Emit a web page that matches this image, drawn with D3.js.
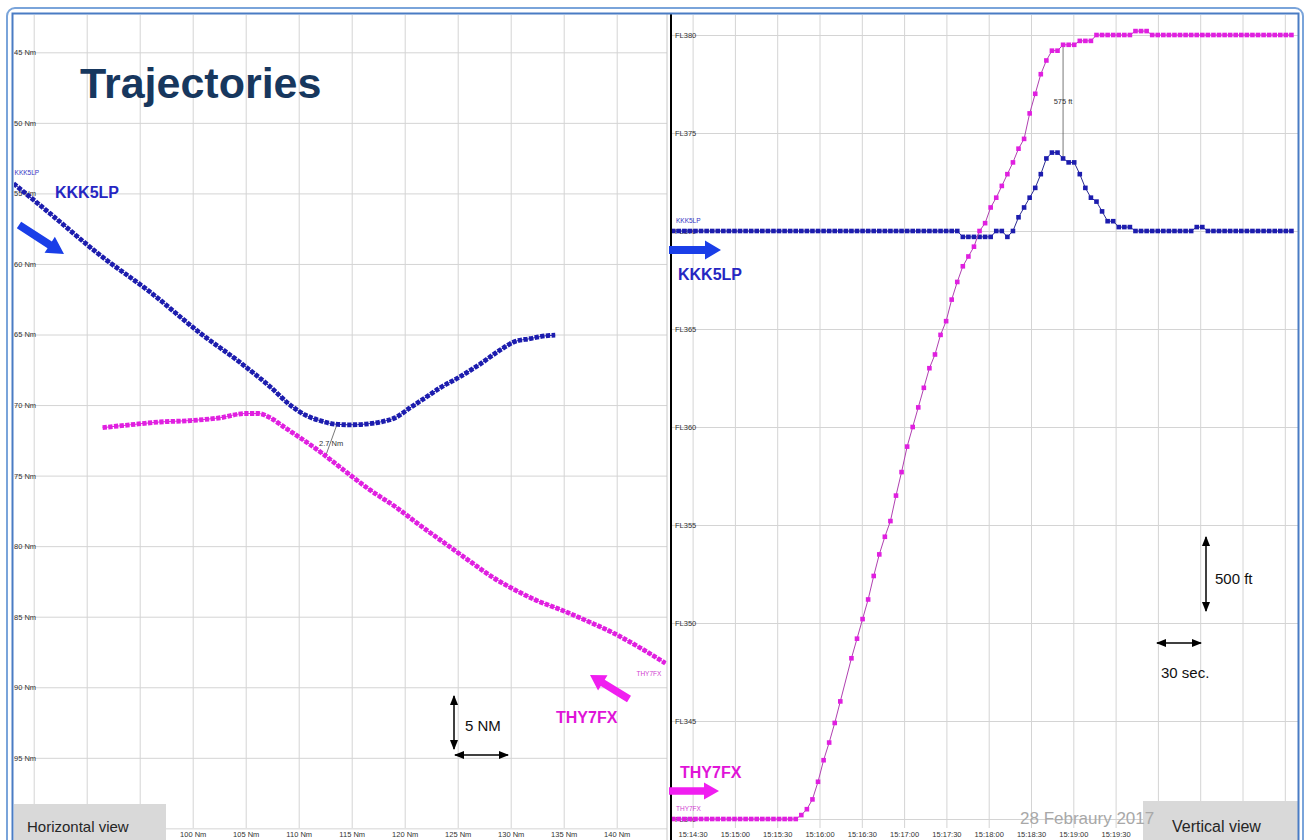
<!DOCTYPE html>
<html><head><meta charset="utf-8">
<script src="https://cdn.jsdelivr.net/npm/d3@7"></script>
<style>body{margin:0;background:#fff}svg{display:block;font-family:"Liberation Sans",Arial,sans-serif}</style>
</head><body><svg id="c" width="1309" height="840"></svg>
<script>
// ---------------- DATA ----------------
// Horizontal view (Nm)
const hGridX   = [85, 90, 95, 100, 105, 110, 115, 120, 125, 130, 135, 140];
const hLabelsX = [100, 105, 110, 115, 120, 125, 130, 135, 140];
const hGridY   = [45, 50, 55, 60, 65, 70, 75, 80, 85, 90, 95, 100];
const hLabelsY = [45, 50, 55, 60, 65, 70, 75, 80, 85, 90, 95];

const kkkX = [83.1, 86.5, 91.3, 96.0, 100.7, 104.5, 107.3, 109.2, 110.6, 112.0, 113.4, 114.8, 116.3, 117.7, 119.1, 120.5, 121.9, 123.3, 125.2, 127.1, 129.0, 130.4, 131.8, 133.2, 134.2];
const kkkY = [54.3, 56.4, 59.4, 62.0, 64.9, 67.0, 68.7, 70.0, 70.7, 71.1, 71.35, 71.4, 71.35, 71.2, 70.9, 70.2, 69.5, 68.8, 68.0, 67.1, 66.1, 65.5, 65.3, 65.1, 65.05];
const thyX = [91.5, 94.1, 96.9, 99.8, 102.6, 104.9, 106.2, 107.3, 108.7, 110.1, 112.0, 114.4, 116.7, 119.1, 121.4, 123.8, 126.2, 128.5, 130.4, 132.3, 134.7, 137.5, 139.8, 142.2, 144.6];
const thyY = [71.6, 71.4, 71.2, 71.1, 70.9, 70.6, 70.6, 70.9, 71.6, 72.3, 73.3, 74.7, 76.0, 77.2, 78.5, 79.8, 81.1, 82.3, 83.1, 83.8, 84.5, 85.4, 86.2, 87.2, 88.3];
// closest approach, horizontal (Nm): [x, y] on KKK5LP and THY7FX
const hSepKKK = [113.6, 71.4];
const hSepTHY = [112.5, 73.7];
const hSepLabel = "2.7 Nm";

// Vertical view
const vTicksFL = [340, 345, 350, 355, 360, 365, 370, 375, 380];
const vTimeLabels = ["15:14:30", "15:15:00", "15:15:30", "15:16:00", "15:16:30", "15:17:00", "15:17:30", "15:18:00", "15:18:30", "15:19:00", "15:19:30"];
const radarStartSec = -13.75;   // seconds relative to 15:14:30
const radarStepSec = 3.95;
const kkkFL = [
  370.0,370.0,370.0,370.0,370.0,370.0,370.0,370.0,370.0,370.0,
  370.0,370.0,370.0,370.0,370.0,370.0,370.0,370.0,370.0,370.0,
  370.0,370.0,370.0,370.0,370.0,370.0,370.0,370.0,370.0,370.0,
  370.0,370.0,370.0,370.0,370.0,370.0,370.0,370.0,370.0,370.0,
  370.0,370.0,370.0,370.0,370.0,370.0,370.0,370.0,370.0,370.0,
  370.0,370.0,369.7,369.7,369.7,369.7,369.7,369.7,370.0,370.0,
  369.7,370.0,370.7,371.2,371.7,372.2,372.9,373.7,374.0,374.0,
  373.7,373.5,373.5,372.9,372.2,371.7,371.5,371.0,370.5,370.5,
  370.2,370.2,370.2,370.0,370.0,370.0,370.0,370.0,370.0,370.0,
  370.0,370.0,370.0,370.0,370.2,370.2,370.0,370.0,370.0,370.0,
  370.0,370.0,370.0,370.0,370.0,370.0,370.0,370.0,370.0,370.0,
  370.0,370.0
];
const thyFL = [
  340.0,340.0,340.0,340.0,340.0,340.0,340.0,340.0,340.0,340.0,
  340.0,340.0,340.0,340.0,340.0,340.0,340.0,340.0,340.0,340.0,
  340.0,340.0,340.0,340.2,340.5,341.0,341.9,343.0,343.9,344.9,
  346.0,null, 348.2,349.2,350.2,351.2,352.4,353.5,354.4,355.2,
  356.5,357.7,359.0,360.0,361.0,362.0,363.0,363.7,364.7,365.4,
  366.5,367.4,368.2,368.7,369.2,370.0,370.4,371.2,371.7,372.3,
  372.9,373.5,374.2,374.7,376.0,377.0,378.0,378.7,379.2,379.2,
  379.5,379.5,379.5,379.7,379.7,379.7,380.0,380.0,380.0,380.0,
  380.0,380.0,380.0,380.2,380.2,380.2,380.0,380.0,380.0,380.0,
  380.0,380.0,380.0,380.0,380.0,380.0,380.0,380.0,380.0,380.0,
  380.0,380.0,380.0,380.0,380.0,380.0,380.0,380.0,380.0,380.0,
  380.0,380.0
];
const vSepIndex = 70;          // radar sample where the vertical separation is shown
const vSepLabel = "575 ft";

// ---------------- DRAW ----------------
const svg = d3.select("#c");
const BLUE = "#1c1cae", PINK = "#e01fe0", GRID = "#d4d4d4";

// scales
const xH = d3.scaleLinear().domain([100, 140]).range([192.7, 616.7]);
const yH = d3.scaleLinear().domain([45, 95]).range([52.3, 757.8]);
const parseT = s => { const p = s.split(":").map(Number); return p[0]*3600 + p[1]*60 + p[2]; };
const t0 = parseT(vTimeLabels[0]);
const xV = d3.scaleLinear().domain([0, 300]).range([692.6, 1115.6]);
const yV = d3.scaleLinear().domain([340, 380]).range([819, 35]);

// clip paths
const defs = svg.append("defs");
defs.append("clipPath").attr("id", "clipL").append("rect").attr("x", 14).attr("y", 15).attr("width", 653).attr("height", 830);
defs.append("clipPath").attr("id", "clipR").append("rect").attr("x", 671).attr("y", 15).attr("width", 627).attr("height", 830);
function headMarker(id, orient) {
  defs.append("marker").attr("id", id).attr("viewBox", "0 0 10 10").attr("refX", 9).attr("refY", 5)
    .attr("markerWidth", 7).attr("markerHeight", 7).attr("orient", orient)
    .append("path").attr("d", "M0,1 L10,5 L0,9 z").attr("fill", "#000");
}
headMarker("ah", "auto-start-reverse");

// ---------- LEFT PANEL ----------
const L = svg.append("g").attr("clip-path", "url(#clipL)");
// grid
L.append("g").attr("transform", "translate(0,15)")
  .call(d3.axisBottom(xH).tickValues(hGridX).tickSize(813).tickFormat(""))
  .call(g => { g.select(".domain").remove(); g.selectAll("line").attr("stroke", GRID); });
L.append("g").attr("transform", "translate(14,0)")
  .call(d3.axisRight(yH).tickValues(hGridY).tickSize(653).tickFormat(""))
  .call(g => { g.select(".domain").remove(); g.selectAll("line").attr("stroke", GRID); });
// y labels
L.append("g").attr("transform", "translate(14,0)")
  .call(d3.axisRight(yH).tickValues(hLabelsY).tickSize(0).tickFormat(d => d + " Nm"))
  .call(g => { g.select(".domain").remove();
    g.selectAll("text").attr("x", 0).attr("dy", "0.32em").attr("fill", "#333").style("font-size", "7.5px").style("font-family", "Liberation Sans, Arial"); });
// x labels
L.append("g").attr("transform", "translate(0,828)")
  .call(d3.axisBottom(xH).tickValues(hLabelsX).tickSize(0).tickFormat(d => d + " Nm"))
  .call(g => { g.select(".domain").remove();
    g.selectAll("text").attr("y", 4).attr("dy", "0.71em").attr("fill", "#333").style("font-size", "7.5px").style("font-family", "Liberation Sans, Arial"); });
// panel edge
svg.append("line").attr("x1", 667).attr("x2", 667).attr("y1", 14).attr("y2", 840).attr("stroke", "#c8c8c8");

// title
svg.append("text").attr("x", 80).attr("y", 98).text("Trajectories")
  .attr("fill", "#17375e").style("font-weight", "bold").style("font-size", "43px").style("font-family", "Liberation Sans, Arial");

// tracks
function drawHTrack(xs, ys, color) {
  const pts = xs.map((x, i) => [xH(x), yH(ys[i])]);
  const line = d3.line().curve(d3.curveMonotoneX);
  L.append("path").attr("d", line(pts)).attr("fill", "none").attr("stroke", color).attr("stroke-width", 1);
  L.append("path").attr("d", line(pts)).attr("fill", "none").attr("stroke", color).attr("stroke-width", 4.8)
    .attr("stroke-dasharray", "4.3 1.4");
}
// separation line
L.append("line").attr("x1", xH(hSepKKK[0])).attr("y1", yH(hSepKKK[1])).attr("x2", xH(hSepTHY[0])).attr("y2", yH(hSepTHY[1]))
  .attr("stroke", "#555").attr("stroke-width", 0.8);
drawHTrack(kkkX, kkkY, BLUE);
drawHTrack(thyX, thyY, PINK);
L.append("text").attr("x", (xH(hSepKKK[0]) + xH(hSepTHY[0])) / 2 - 12).attr("y", (yH(hSepKKK[1]) + yH(hSepTHY[1])) / 2 + 5)
  .text(hSepLabel).attr("fill", "#333").style("font-size", "7.5px");

// track tags
L.append("text").attr("x", xH(kkkX[0]) + 1).attr("y", yH(kkkY[0]) - 9).text("KKK5LP").attr("fill", "#3434c4").style("font-size", "6.5px");
L.append("text").attr("x", xH(thyX[thyX.length - 1]) - 29).attr("y", yH(thyY[thyY.length - 1]) + 13).text("THY7FX").attr("fill", "#d040d0").style("font-size", "6.5px");

// ---------- RIGHT PANEL ----------
const R = svg.append("g").attr("clip-path", "url(#clipR)");
const gridSecs = d3.range(0, 421, 30);
R.append("g").attr("transform", "translate(0,15)")
  .call(d3.axisBottom(xV).tickValues(gridSecs).tickSize(813).tickFormat(""))
  .call(g => { g.select(".domain").remove(); g.selectAll("line").attr("stroke", GRID); });
R.append("g").attr("transform", "translate(671,0)")
  .call(d3.axisRight(yV).tickValues(vTicksFL).tickSize(627).tickFormat(""))
  .call(g => { g.select(".domain").remove(); g.selectAll("line").attr("stroke", GRID); });
R.append("g").attr("transform", "translate(675,0)")
  .call(d3.axisRight(yV).tickValues(vTicksFL).tickSize(0).tickFormat(d => "FL" + d))
  .call(g => { g.select(".domain").remove();
    g.selectAll("text").attr("x", 0).attr("dy", "0.32em").attr("fill", "#333").style("font-size", "7.5px").style("font-family", "Liberation Sans, Arial"); });
R.append("g").attr("transform", "translate(0,828)")
  .call(d3.axisBottom(xV).tickValues(vTimeLabels.map(s => parseT(s) - t0)).tickSize(0).tickFormat((d, i) => vTimeLabels[i]))
  .call(g => { g.select(".domain").remove();
    g.selectAll("text").attr("y", 4).attr("dy", "0.71em").attr("fill", "#333").style("font-size", "7.5px").style("font-family", "Liberation Sans, Arial"); });

const tOf = i => radarStartSec + i * radarStepSec;
// separation line
R.append("line").attr("x1", xV(tOf(vSepIndex))).attr("x2", xV(tOf(vSepIndex)))
  .attr("y1", yV(thyFL[vSepIndex])).attr("y2", yV(kkkFL[vSepIndex])).attr("stroke", "#555").attr("stroke-width", 0.8);
R.append("text").attr("x", xV(tOf(vSepIndex))).attr("y", 104).attr("text-anchor", "middle")
  .text(vSepLabel).attr("fill", "#333").style("font-size", "7.5px");

function drawVTrack(fl, color, thin) {
  const pts = fl.map((v, i) => ({ t: tOf(i), v })).filter(d => d.v !== null);
  R.append("path").attr("d", d3.line().x(d => xV(d.t)).y(d => yV(d.v))(pts))
    .attr("fill", "none").attr("stroke", thin).attr("stroke-width", 1);
  R.append("g").selectAll("rect").data(pts).join("rect")
    .attr("x", d => xV(d.t) - 2.3).attr("y", d => yV(d.v) - 2.3).attr("width", 4.6).attr("height", 4.6).attr("fill", color);
}
drawVTrack(kkkFL, BLUE, "#2a2a90");
drawVTrack(thyFL, PINK, "#b040b0");

R.append("text").attr("x", 676).attr("y", 223).text("KKK5LP").attr("fill", "#3434c4").style("font-size", "6.5px");
R.append("text").attr("x", 676).attr("y", 811).text("THY7FX").attr("fill", "#d040d0").style("font-size", "6.5px");

// axis line of right panel
svg.append("line").attr("x1", 671).attr("x2", 671).attr("y1", 14).attr("y2", 840).attr("stroke", "#000").attr("stroke-width", 2);

// ---------- ANNOTATIONS ----------
function arrow(x1, y1, x2, y2, sw, hl, hw, color) {
  const dx = x2 - x1, dy = y2 - y1, len = Math.hypot(dx, dy), ux = dx / len, uy = dy / len, px = -uy, py = ux;
  const bx = x2 - ux * hl, by = y2 - uy * hl;
  const p = [[x1 + px * sw / 2, y1 + py * sw / 2], [bx + px * sw / 2, by + py * sw / 2], [bx + px * hw / 2, by + py * hw / 2], [x2, y2],
             [bx - px * hw / 2, by - py * hw / 2], [bx - px * sw / 2, by - py * sw / 2], [x1 - px * sw / 2, y1 - py * sw / 2]];
  svg.append("path").attr("d", "M" + p.join("L") + "Z").attr("fill", color);
}
arrow(19, 225, 64, 254, 8, 17, 19, "#1a3ee8");
arrow(669, 250, 721, 250, 8, 16, 19, "#1a3ee8");
arrow(629, 699, 590, 675, 7.5, 15, 18, "#f01ef0");
arrow(669, 791, 719, 791, 7.5, 15, 17, "#f01ef0");

const lab = (x, y, t, c, size, bold) => svg.append("text").attr("x", x).attr("y", y).text(t).attr("fill", c)
  .style("font-size", size + "px").style("font-weight", bold ? "bold" : "normal");
lab(55, 198, "KKK5LP", "#2626c2", 16, true);
lab(678, 280, "KKK5LP", "#2626c2", 16, true);
lab(556, 723, "THY7FX", "#e014d8", 16, true);
lab(680, 778, "THY7FX", "#e014d8", 16, true);

function dbl(x1, y1, x2, y2) {
  svg.append("line").attr("x1", x1).attr("y1", y1).attr("x2", x2).attr("y2", y2).attr("stroke", "#000").attr("stroke-width", 1.5)
    .attr("marker-start", "url(#ah)").attr("marker-end", "url(#ah)");
}
dbl(454, 696, 454, 749);
dbl(455, 755, 508, 755);
lab(465, 731, "5 NM", "#111", 15, false);
dbl(1206, 537, 1206, 611);
dbl(1157, 643, 1201, 643);
lab(1215, 584, "500 ft", "#111", 15, false);
lab(1161, 678, "30 sec.", "#111", 15, false);

// view boxes
svg.append("rect").attr("x", 14).attr("y", 804).attr("width", 152).attr("height", 40).attr("fill", "#d9d9d9");
lab(27, 832, "Horizontal view", "#262626", 15, false);
svg.append("rect").attr("x", 1143).attr("y", 801).attr("width", 155).attr("height", 44).attr("fill", "#d9d9d9");
lab(1172, 832, "Vertical view", "#262626", 16, false);
lab(1020, 824, "28 Febraury 2017", "#a8a8a8", 17, false);

// frame
svg.append("rect").attr("x", 7).attr("y", 8).attr("width", 1296).attr("height", 900).attr("rx", 8)
  .attr("fill", "none").attr("stroke", "#7aa4da").attr("stroke-width", 2);
svg.append("rect").attr("x", 12.5).attr("y", 13.5).attr("width", 1286).attr("height", 900)
  .attr("fill", "none").attr("stroke", "#4a7cc4").attr("stroke-width", 2);
</script></body></html>
